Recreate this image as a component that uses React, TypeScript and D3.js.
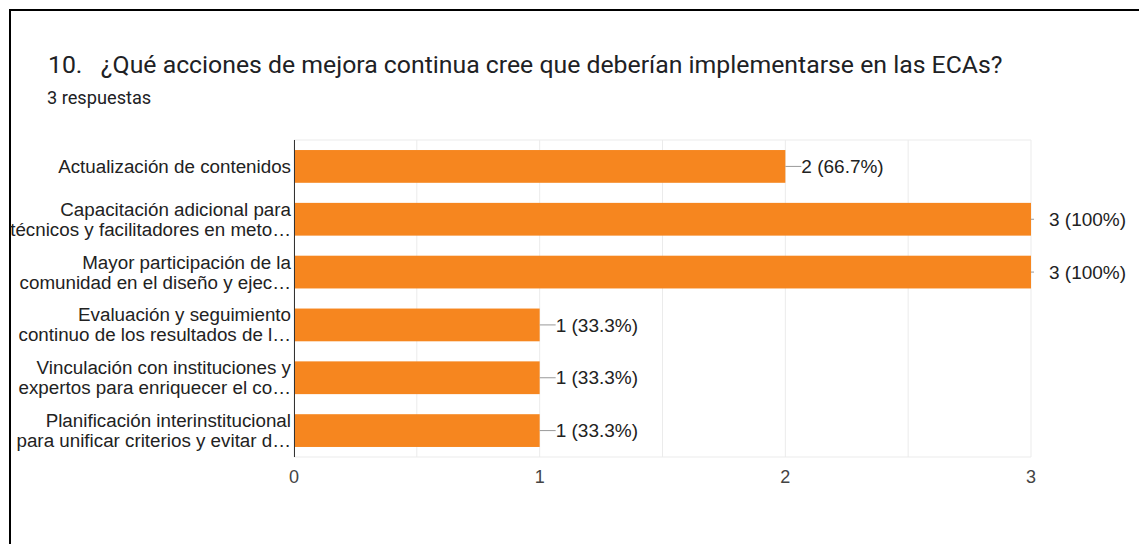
import * as d3 from "d3";
import React, { useEffect, useRef } from "react";

// horizontal bar chart, google forms style
const categories: string[][] = [
  ["Actualización de contenidos"],
  ["Capacitación adicional para", "técnicos y facilitadores en meto…"],
  ["Mayor participación de la", "comunidad en el diseño y ejec…"],
  ["Evaluación y seguimiento", "continuo de los resultados de l…"],
  ["Vinculación con instituciones y", "expertos para enriquecer el co…"],
  ["Planificación interinstitucional", "para unificar criterios y evitar d…"],
];
const values: number[] = [2, 3, 3, 1, 1, 1];
const totalResponses = 3;
const xTicks: number[] = [0, 1, 2, 3];
const gridTicks: number[] = [0, 0.5, 1, 1.5, 2, 2.5, 3];

const title = "10.   ¿Qué acciones de mejora continua cree que deberían implementarse en las ECAs?";
const subtitle = `${totalResponses} respuestas`;

const W = 1139;
const H = 544;

const App: React.FC = () => {
  const ref = useRef<SVGSVGElement | null>(null);

  useEffect(() => {
    if (!ref.current) return;
    const svg = d3.select(ref.current);
    svg.selectAll("*").remove();

    const margin = { top: 140, left: 294, right: 108, bottom: 87 };
    const innerW = W - margin.left - margin.right;
    const innerH = H - margin.top - margin.bottom;
    const barColor = "#f6861f";
    const labelFont = "Arial, 'Liberation Sans', sans-serif";

    svg.append("rect").attr("width", W).attr("height", H).attr("fill", "#fff");

    // card border
    svg.append("rect")
      .attr("x", 10).attr("y", 10)
      .attr("width", W + 20).attr("height", H + 20)
      .attr("fill", "none").attr("stroke", "#000").attr("stroke-width", 2);

    svg.append("text")
      .attr("x", 48).attr("y", 73)
      .style("font-family", "Roboto, sans-serif")
      .style("font-size", "24.8px")
      .attr("fill", "#202124")
      .attr("xml:space", "preserve")
      .style("white-space", "pre")
      .text(title);

    svg.append("text")
      .attr("x", 47).attr("y", 104)
      .style("font-family", "Roboto, sans-serif")
      .style("font-size", "18.2px")
      .attr("fill", "#202124")
      .text(subtitle);

    const x = d3.scaleLinear().domain([0, 3]).range([0, innerW]);
    const y = d3.scaleBand<number>()
      .domain(values.map((_, i) => i))
      .range([0, innerH])
      .paddingInner(0.38)
      .paddingOuter(0.19);

    const g = svg.append("g").attr("transform", `translate(${margin.left},${margin.top})`);

    // grid
    g.selectAll("line.grid")
      .data(gridTicks)
      .enter()
      .append("line")
      .attr("x1", (d) => x(d)).attr("x2", (d) => x(d))
      .attr("y1", 0).attr("y2", innerH)
      .attr("stroke", "#ebebeb").attr("stroke-width", 1);
    g.append("line")
      .attr("x1", 0).attr("x2", innerW)
      .attr("y1", 0).attr("y2", 0)
      .attr("stroke", "#ebebeb");
    g.append("line")
      .attr("x1", 0).attr("x2", innerW)
      .attr("y1", innerH).attr("y2", innerH)
      .attr("stroke", "#ebebeb");

    // bars
    g.selectAll("rect.bar")
      .data(values)
      .enter()
      .append("rect")
      .attr("x", 0)
      .attr("y", (_, i) => y(i)!)
      .attr("width", (d) => x(d))
      .attr("height", y.bandwidth())
      .attr("fill", barColor);

    // axis line
    g.append("line")
      .attr("x1", 0.5).attr("x2", 0.5)
      .attr("y1", 0).attr("y2", innerH)
      .attr("stroke", "#333").attr("stroke-width", 1);

    // value labels with leader lines
    const maxV = d3.max(values)!;
    values.forEach((v, i) => {
      const cy = y(i)! + y.bandwidth() / 2;
      const lineLen = v === maxV ? 3 : 16;
      const textOff = v === maxV ? 18 : 16;
      g.append("line")
        .attr("x1", x(v)).attr("x2", x(v) + lineLen)
        .attr("y1", cy).attr("y2", cy)
        .attr("stroke", "#999");
      const pct = (v / totalResponses) * 100;
      g.append("text")
        .attr("x", x(v) + textOff).attr("y", cy)
        .attr("dy", "0.35em")
        .style("font-family", labelFont)
        .style("font-size", "19px")
        .attr("fill", "#222")
        .text(`${v} (${v === maxV ? "100" : pct.toFixed(1)}%)`);
    });

    // category labels
    categories.forEach((lines, i) => {
      const cy = y(i)! + y.bandwidth() / 2;
      const lh = 20;
      lines.forEach((ln, j) => {
        g.append("text")
          .attr("x", -3)
          .attr("y", cy + (j - (lines.length - 1) / 2) * lh)
          .attr("dy", "0.35em")
          .attr("text-anchor", "end")
          .style("font-family", labelFont)
          .style("font-size", "18.8px")
          .attr("fill", "#222")
          .text(ln);
      });
    });

    // x tick labels
    g.selectAll("text.tick")
      .data(xTicks)
      .enter()
      .append("text")
      .attr("x", (d) => x(d))
      .attr("y", innerH + 20)
      .attr("dy", "0.35em")
      .attr("text-anchor", "middle")
      .style("font-family", labelFont)
      .style("font-size", "18px")
      .attr("fill", "#444")
      .text((d) => d);
  }, []);

  return (
    <svg
      ref={ref}
      width={W}
      height={H}
      style={{ position: "absolute", left: 0, top: 0, display: "block" }}
    ></svg>
  );
};

export default App;
